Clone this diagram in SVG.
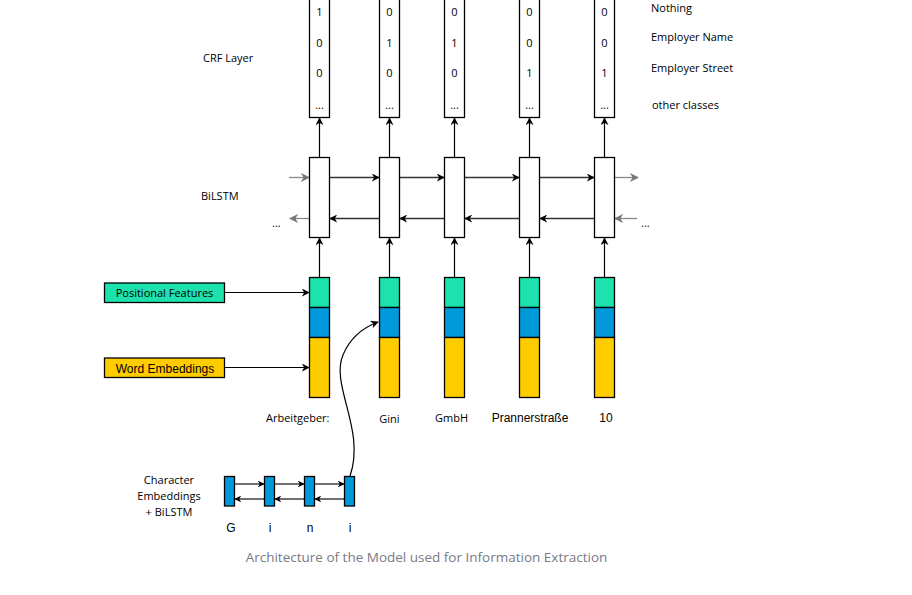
<svg xmlns="http://www.w3.org/2000/svg" width="912" height="595" viewBox="0 0 912 595">
<style>
.box{fill:#fff;stroke:#000;stroke-width:1.3}
.g{fill:#1de2ad;stroke:#000;stroke-width:1.3}
.b{fill:#0299db;stroke:#000;stroke-width:1.3}
.y{fill:#ffcc00;stroke:#000;stroke-width:1.3}
.t{font-family:"Open Sans","Noto Sans",sans-serif;font-size:11px;fill:#000}
.n{font-family:"Open Sans","Noto Sans",sans-serif;font-size:11px;fill:#000;text-anchor:middle}
.a{font-family:"Liberation Sans",Arial,sans-serif;font-size:12px;fill:#000}
.ln{stroke:#000;stroke-width:1.2;fill:none}
.dk{stroke:#333;stroke-width:1.4;fill:none}
.gr{stroke:#888;stroke-width:1.3;fill:none}
</style>
<defs>
<marker id="ah" viewBox="0 0 10 10" refX="9" refY="5" markerWidth="8" markerHeight="8" markerUnits="userSpaceOnUse" orient="auto"><path d="M0,0 L10,5 L0,10 L3,5 Z" fill="#000"/></marker>
<marker id="ahg" viewBox="0 0 10 10" refX="9" refY="5" markerWidth="9" markerHeight="9" markerUnits="userSpaceOnUse" orient="auto"><path d="M0,0 L10,5 L0,10 L3,5 Z" fill="#777"/></marker>
<marker id="ahs" viewBox="0 0 10 10" refX="9" refY="5" markerWidth="7" markerHeight="7" markerUnits="userSpaceOnUse" orient="auto"><path d="M0,0 L10,5 L0,10 L3,5 Z" fill="#000"/></marker>
</defs>
<rect width="912" height="595" fill="#fff"/>

<!-- labels -->
<text class="t" x="203" y="62">CRF Layer</text>
<text class="t" x="201" y="200">BiLSTM</text>
<text class="t" x="651" y="12">Nothing</text>
<text class="t" x="651" y="41">Employer Name</text>
<text class="t" x="651" y="72">Employer Street</text>
<text class="t" x="652" y="109">other classes</text>
<text class="t" x="272" y="227">...</text>
<text class="t" x="641" y="227">...</text>

<!-- connectors -->
<g id="connectors">
  <!-- BiLSTM to CRF -->
  <line class="ln" x1="319.5" y1="157" x2="319.5" y2="118" marker-end="url(#ah)"/>
  <line class="ln" x1="389.5" y1="157" x2="389.5" y2="118" marker-end="url(#ah)"/>
  <line class="ln" x1="454.5" y1="157" x2="454.5" y2="118" marker-end="url(#ah)"/>
  <line class="ln" x1="529.5" y1="157" x2="529.5" y2="118" marker-end="url(#ah)"/>
  <line class="ln" x1="604.5" y1="157" x2="604.5" y2="118" marker-end="url(#ah)"/>
  <!-- embeddings to BiLSTM -->
  <line class="ln" x1="319.5" y1="277" x2="319.5" y2="238" marker-end="url(#ah)"/>
  <line class="ln" x1="389.5" y1="277" x2="389.5" y2="238" marker-end="url(#ah)"/>
  <line class="ln" x1="454.5" y1="277" x2="454.5" y2="238" marker-end="url(#ah)"/>
  <line class="ln" x1="529.5" y1="277" x2="529.5" y2="238" marker-end="url(#ah)"/>
  <line class="ln" x1="604.5" y1="277" x2="604.5" y2="238" marker-end="url(#ah)"/>
  <!-- forward -->
  <line class="gr" x1="289" y1="177.5" x2="309" y2="177.5" marker-end="url(#ahg)"/>
  <line class="dk" x1="329.5" y1="177.5" x2="379" y2="177.5" marker-end="url(#ah)"/>
  <line class="dk" x1="399.5" y1="177.5" x2="444" y2="177.5" marker-end="url(#ah)"/>
  <line class="dk" x1="464.5" y1="177.5" x2="519" y2="177.5" marker-end="url(#ah)"/>
  <line class="dk" x1="539.5" y1="177.5" x2="594" y2="177.5" marker-end="url(#ah)"/>
  <line class="gr" x1="614.5" y1="177.5" x2="638" y2="177.5" marker-end="url(#ahg)"/>
  <!-- backward -->
  <line class="gr" x1="637" y1="218.5" x2="615" y2="218.5" marker-end="url(#ahg)"/>
  <line class="dk" x1="594.5" y1="218.5" x2="540" y2="218.5" marker-end="url(#ah)"/>
  <line class="dk" x1="519.5" y1="218.5" x2="465" y2="218.5" marker-end="url(#ah)"/>
  <line class="dk" x1="444.5" y1="218.5" x2="400" y2="218.5" marker-end="url(#ah)"/>
  <line class="dk" x1="379.5" y1="218.5" x2="330" y2="218.5" marker-end="url(#ah)"/>
  <line class="gr" x1="309" y1="218.5" x2="290" y2="218.5" marker-end="url(#ahg)"/>
  <!-- feature boxes to column -->
  <line class="ln" x1="224.5" y1="292.5" x2="309" y2="292.5" marker-end="url(#ah)"/>
  <line class="ln" x1="224.5" y1="367.5" x2="309" y2="367.5" marker-end="url(#ah)"/>
  <!-- char BiLSTM -->
  <line class="dk" x1="234.5" y1="484" x2="264" y2="484" marker-end="url(#ahs)"/>
  <line class="dk" x1="274.5" y1="484" x2="304" y2="484" marker-end="url(#ahs)"/>
  <line class="dk" x1="314.5" y1="484" x2="344" y2="484" marker-end="url(#ahs)"/>
  <line class="dk" x1="344.5" y1="499" x2="315" y2="499" marker-end="url(#ahs)"/>
  <line class="dk" x1="304.5" y1="499" x2="275" y2="499" marker-end="url(#ahs)"/>
  <line class="dk" x1="264.5" y1="499" x2="235" y2="499" marker-end="url(#ahs)"/>
  <!-- char to word -->
  <path class="ln" d="M350,476 C366,430 330,385 343,355 C350,338 362,328 378,322" marker-end="url(#ah)"/>
</g>

<!-- CRF nodes -->
<g id="crf1"><rect class="box" x="309.5" y="-2" width="20" height="119.5"/>
<text class="n" x="319.5" y="16">1</text><text class="n" x="319.5" y="47">0</text><text class="n" x="319.5" y="77">0</text><text class="n" x="319.5" y="109">...</text></g>
<g id="crf2"><rect class="box" x="379.5" y="-2" width="20" height="119.5"/>
<text class="n" x="389.5" y="16">0</text><text class="n" x="389.5" y="47">1</text><text class="n" x="389.5" y="77">0</text><text class="n" x="389.5" y="109">...</text></g>
<g id="crf3"><rect class="box" x="444.5" y="-2" width="20" height="119.5"/>
<text class="n" x="454.5" y="16">0</text><text class="n" x="454.5" y="47">1</text><text class="n" x="454.5" y="77">0</text><text class="n" x="454.5" y="109">...</text></g>
<g id="crf4"><rect class="box" x="519.5" y="-2" width="20" height="119.5"/>
<text class="n" x="529.5" y="16">0</text><text class="n" x="529.5" y="47">0</text><text class="n" x="529.5" y="77">1</text><text class="n" x="529.5" y="109">...</text></g>
<g id="crf5"><rect class="box" x="594.5" y="-2" width="20" height="119.5"/>
<text class="n" x="604.5" y="16">0</text><text class="n" x="604.5" y="47">0</text><text class="n" x="604.5" y="77">1</text><text class="n" x="604.5" y="109">...</text></g>

<!-- BiLSTM nodes -->
<g id="lstm1"><rect class="box" x="309.5" y="157.5" width="20" height="80"/></g>
<g id="lstm2"><rect class="box" x="379.5" y="157.5" width="20" height="80"/></g>
<g id="lstm3"><rect class="box" x="444.5" y="157.5" width="20" height="80"/></g>
<g id="lstm4"><rect class="box" x="519.5" y="157.5" width="20" height="80"/></g>
<g id="lstm5"><rect class="box" x="594.5" y="157.5" width="20" height="80"/></g>

<!-- Embedding columns -->
<g id="emb1"><rect class="g" x="309.5" y="277.5" width="20" height="30"/><rect class="b" x="309.5" y="307.5" width="20" height="30"/><rect class="y" x="309.5" y="337.5" width="20" height="60"/></g>
<g id="emb2"><rect class="g" x="379.5" y="277.5" width="20" height="30"/><rect class="b" x="379.5" y="307.5" width="20" height="30"/><rect class="y" x="379.5" y="337.5" width="20" height="60"/></g>
<g id="emb3"><rect class="g" x="444.5" y="277.5" width="20" height="30"/><rect class="b" x="444.5" y="307.5" width="20" height="30"/><rect class="y" x="444.5" y="337.5" width="20" height="60"/></g>
<g id="emb4"><rect class="g" x="519.5" y="277.5" width="20" height="30"/><rect class="b" x="519.5" y="307.5" width="20" height="30"/><rect class="y" x="519.5" y="337.5" width="20" height="60"/></g>
<g id="emb5"><rect class="g" x="594.5" y="277.5" width="20" height="30"/><rect class="b" x="594.5" y="307.5" width="20" height="30"/><rect class="y" x="594.5" y="337.5" width="20" height="60"/></g>

<!-- feature boxes -->
<g id="positional"><rect class="g" x="104.5" y="283" width="120" height="19.5"/>
<text class="t" x="164.5" y="297" text-anchor="middle">Positional Features</text></g>
<g id="wordemb"><rect class="y" x="104.5" y="358" width="120" height="19.5"/>
<text class="a" x="165" y="372.5" text-anchor="middle">Word Embeddings</text></g>

<!-- words -->
<text class="t" x="266" y="422">Arbeitgeber:</text>
<text class="n" x="389.5" y="423">Gini</text>
<text class="n" x="451.5" y="422">GmbH</text>
<text class="a" x="530" y="422" text-anchor="middle">Prannerstraße</text>
<text class="a" x="606" y="422" text-anchor="middle">10</text>

<!-- char cells -->
<g id="char1"><rect class="b" x="224.5" y="476.5" width="10" height="29.5"/></g>
<g id="char2"><rect class="b" x="264.5" y="476.5" width="10" height="29.5"/></g>
<g id="char3"><rect class="b" x="304.5" y="476.5" width="10" height="29.5"/></g>
<g id="char4"><rect class="b" x="344.5" y="476.5" width="10" height="29.5"/></g>
<text class="n" x="169" y="484">Character</text>
<text class="n" x="169" y="500">Embeddings</text>
<text class="n" x="169" y="516">+ BiLSTM</text>
<text class="a" x="231" y="532" text-anchor="middle">G</text>
<text class="a" x="270" y="532" text-anchor="middle">i</text>
<text class="a" x="310" y="532" text-anchor="middle">n</text>
<text class="a" x="350" y="532" text-anchor="middle">i</text>

<text x="426.5" y="562" text-anchor="middle" font-family="'Open Sans','Noto Sans',sans-serif" font-size="13.5" fill="#7a7a85">Architecture of the Model used for Information Extraction</text>
</svg>
